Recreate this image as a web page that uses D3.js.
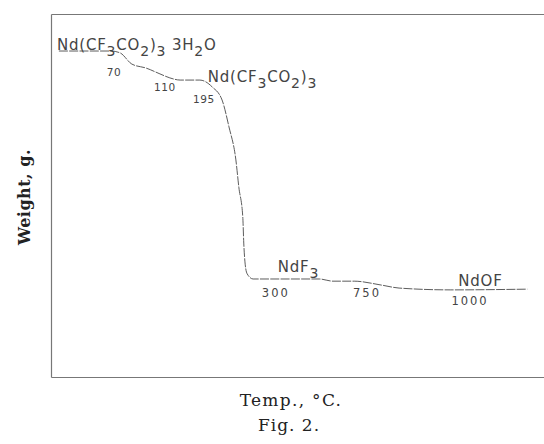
<!DOCTYPE html>
<html>
<head>
<meta charset="utf-8">
<script src="https://cdn.jsdelivr.net/npm/d3@7"></script>
<style>
  body { margin: 0; background: #fff; overflow: hidden; }
  .trace { fill: none; stroke: #4a4a4a; stroke-width: 0.9; stroke-dasharray: 9,1.3; }
  .frame path { stroke: #777; stroke-width: 1.2; }
  .phase, .temp { fill: #444; font-family: "DejaVu Sans", sans-serif; }
</style>
</head>
<body>
<div class="tga"></div>
<script>
// run position along the recorder chart (arbitrary units) and relative weight
var runPos = [1.6, 12.2, 14.0, 16.4, 19.3, 22.1, 24.1, 26.2, 30.2, 32.7, 34.7, 36.1, 37.5, 38.1,
              38.9, 39.1, 39.4, 39.8, 41.0, 54.4, 57.2, 61.5, 67.1, 70.6, 81.1, 96.6];
var weight = [89.8, 89.8, 89.3, 86.2, 85.1, 83.5, 82.4, 81.8, 81.8, 79.9, 76.3, 68.9, 59.8, 52.3,
              44.1, 36.9, 30.9, 28.4, 27.0, 27.0, 26.4, 26.4, 25.3, 24.5, 24.0, 24.2];

// temperature marks written along the curve
var tempLabels = ["70", "110", "195", "300", "750", "1000"];
var tempPos = [12.8, 23.1, 31.0, 45.6, 64.1, 85.0];
var tempWeight = [84.0, 79.9, 76.6, 23.1, 23.1, 20.9];

// phases: text pieces, 1 = subscript
var phaseParts = [
  [["Nd(CF", 0], ["3", 1], ["CO", 0], ["2", 1], [")", 0], ["3", 1], [" 3H", 0], ["2", 1], ["O", 0]],
  [["Nd(CF", 0], ["3", 1], ["CO", 0], ["2", 1], [")", 0], ["3", 1]],
  [["NdF", 0], ["3", 1]],
  [["NdOF", 0]]
];
var phasePos = [1.2, 31.8, 46.0, 82.6];
var phaseWeight = [90.1, 81.3, 28.9, 25.1];

var width = 544, height = 444;
var padLeft = 51, padRight = 544, padTop = 14, padBottom = 377;

var svg = d3.select(".tga").append("svg")
    .attr("width", width)
    .attr("height", height)
    .style("display", "block");

var x = d3.scaleLinear().domain([0, 100]).range([padLeft, padRight]);
var y = d3.scaleLinear().domain([0, 100]).range([padBottom, padTop]);

// frame: left, top and bottom only (open on the right), no ticks
svg.append("g").attr("class", "frame")
    .attr("transform", "translate(" + padLeft + ",0)")
    .call(d3.axisLeft(y).ticks(0).tickSizeOuter(0));
svg.append("g").attr("class", "frame")
    .attr("transform", "translate(0," + padTop + ")")
    .call(d3.axisTop(x).ticks(0).tickSizeOuter(0));
svg.append("g").attr("class", "frame")
    .attr("transform", "translate(0," + padBottom + ")")
    .call(d3.axisBottom(x).ticks(0).tickSizeOuter(0));

// the weight trace
var pts = runPos.map(function(p, i) { return [p, weight[i]]; });
var line = d3.line()
    .x(function(d) { return x(d[0]); })
    .y(function(d) { return y(d[1]); })
    .curve(d3.curveMonotoneX);

svg.append("path")
    .attr("class", "trace")
    .attr("d", line(pts));

// temperature marks
svg.selectAll(".temp")
    .data(tempLabels)
    .enter().append("text")
    .attr("class", "temp")
    .attr("x", function(d, i) { return x(tempPos[i]); })
    .attr("y", function(d, i) { return y(tempWeight[i]); })
    .attr("dy", ".36em")
    .attr("text-anchor", "middle")
    .attr("font-size", function(d, i) { return i < 3 ? "10.5px" : "11.5px"; })
    .attr("letter-spacing", function(d, i) { return i < 3 ? "0.6px" : "2px"; })
    .text(function(d) { return d; });

// phase names with subscripts
phaseParts.forEach(function(parts, i) {
  var t = svg.append("text")
      .attr("class", "phase")
      .attr("x", x(phasePos[i]))
      .attr("y", y(phaseWeight[i]))
      .attr("font-size", "15px")
      .attr("letter-spacing", "0.8px");
  var low = 0;
  parts.forEach(function(p) {
    var shift = p[1] ? 6 : 0;
    t.append("tspan")
        .attr("dy", shift - low)
        .attr("font-size", p[1] ? "14px" : "15px")
        .text(p[0]);
    low = shift;
  });
});

// axis titles and caption
svg.append("text")
    .attr("transform", "translate(30,197) rotate(-90)")
    .attr("text-anchor", "middle")
    .attr("font-family", "DejaVu Serif, serif")
    .attr("font-weight", "bold")
    .attr("font-size", "16px")
    .attr("letter-spacing", "0.5px")
    .attr("fill", "#222")
    .text("Weight, g.");

svg.append("text")
    .attr("x", 291)
    .attr("y", 406)
    .attr("text-anchor", "middle")
    .attr("font-family", "DejaVu Serif, serif")
    .attr("font-size", "17px")
    .attr("letter-spacing", "1.3px")
    .attr("fill", "#222")
    .text("Temp., °C.");

svg.append("text")
    .attr("x", 289)
    .attr("y", 431)
    .attr("text-anchor", "middle")
    .attr("font-family", "DejaVu Serif, serif")
    .attr("font-size", "17px")
    .attr("letter-spacing", "1px")
    .attr("fill", "#222")
    .text("Fig. 2.");
</script>
</body>
</html>
